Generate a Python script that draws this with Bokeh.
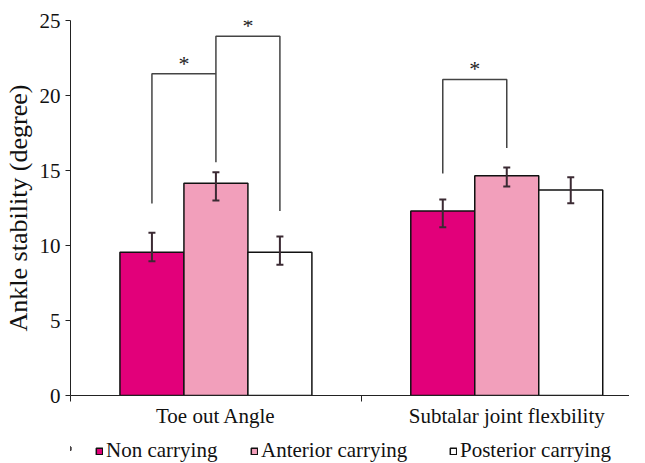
from bokeh.plotting import figure
from bokeh.models import (Range1d, FixedTicker, Whisker, TeeHead, ColumnDataSource,
                          Legend, LegendItem)
from bokeh.layouts import column
from bokeh.core.properties import value
from bokeh.embed import file_html
from bokeh.resources import INLINE

# ---- data ----
categories = ["Toe out Angle", "Subtalar joint flexbility"]
series = ["Non carrying", "Anterior carrying", "Posterior carrying"]
non_carrying = [9.55, 12.3]
anterior_carrying = [14.15, 14.65]
posterior_carrying = [9.55, 13.7]
non_err_low = [8.95, 11.22]
non_err_high = [10.85, 13.07]
ant_err_low = [13.0, 13.93]
ant_err_high = [14.89, 15.2]
post_err_low = [8.71, 12.82]
post_err_high = [10.6, 14.55]
# significance brackets: (category index, from series, to series, top, left leg bottom, right leg bottom)
bracket_cat = [0, 0, 1]
bracket_from = [0, 1, 0]
bracket_to = [1, 2, 1]
bracket_top = [21.45, 23.95, 21.07]
bracket_left_bottom = [12.8, 21.45, 14.8]
bracket_right_bottom = [15.55, 12.3, 16.5]
y_ticks = [0, 5, 10, 15, 20, 25]

colors = ["#E2007A", "#F29FBB", "#FFFFFF"]
values = [non_carrying, anterior_carrying, posterior_carrying]
lows = [non_err_low, ant_err_low, post_err_low]
highs = [non_err_high, ant_err_high, post_err_high]

BAR_W = 0.22
FONT = "Liberation Serif"

p = figure(width=629, height=430, output_backend="svg", toolbar_location=None,
           x_range=Range1d(0, 1.922), y_range=Range1d(0, 25),
           min_border_left=64, min_border_right=0, min_border_top=20, min_border_bottom=35)
p.outline_line_color = None
p.xgrid.visible = False
p.ygrid.visible = False


def xpos(cat, k):
    return cat + 0.5 + (k - 1) * BAR_W


for k, name in enumerate(series):
    xs = [xpos(c, k) for c in range(len(categories))]
    src = ColumnDataSource(dict(x=xs, top=values[k], lo=lows[k], hi=highs[k]))
    p.vbar(x="x", top="top", width=BAR_W, bottom=0, source=src,
           fill_color=colors[k], line_color="#111111", line_width=1.5)
    w = Whisker(base="x", upper="hi", lower="lo", source=src, level="overlay",
                line_color="#3b2a33", line_width=2,
                upper_head=TeeHead(size=7, line_color="#3b2a33", line_width=2),
                lower_head=TeeHead(size=7, line_color="#3b2a33", line_width=2))
    p.add_layout(w)

# brackets
bx, by, sx, sy = [], [], [], []
for i in range(len(bracket_cat)):
    x0 = xpos(bracket_cat[i], bracket_from[i])
    x1 = xpos(bracket_cat[i], bracket_to[i])
    bx.append([x0, x0, x1, x1])
    by.append([bracket_left_bottom[i], bracket_top[i], bracket_top[i], bracket_right_bottom[i]])
    sx.append((x0 + x1) / 2)
    sy.append(bracket_top[i] + 0.7)
p.multi_line(bx, by, line_color="#444444", line_width=1.5)
p.text(sx, sy, text=["*"] * len(sx), text_font=value(FONT), text_font_size="22px",
       text_align="center", text_baseline="middle", text_color="#222222")

# axes
xa = p.xaxis[0]
xa.ticker = FixedTicker(ticks=[0.5, 1.5], minor_ticks=[0, 1, 2])
xa.major_label_overrides = {0.5: categories[0], 1.5: categories[1]}
xa.major_tick_out = 0
xa.major_tick_in = 0
xa.minor_tick_out = 6
xa.minor_tick_in = 0
xa.minor_tick_line_color = "#222222"
xa.axis_line_color = "#222222"
xa.major_label_standoff = 2
xa.major_label_text_font = FONT
xa.major_label_text_font_size = "21px"
xa.major_label_text_color = "#111111"

ya = p.yaxis[0]
ya.ticker = FixedTicker(ticks=y_ticks, minor_ticks=[])
ya.major_tick_out = 5
ya.major_tick_in = 0
ya.major_tick_line_color = "#222222"
ya.axis_line_color = "#222222"
ya.major_label_standoff = 5
ya.major_label_text_font = FONT
ya.major_label_text_font_size = "21px"
ya.major_label_text_color = "#111111"
ya.axis_label = "Ankle stability (degree)"
ya.axis_label_text_font = FONT
ya.axis_label_text_font_size = "26px"
ya.axis_label_text_font_style = "normal"
ya.axis_label_text_color = "#111111"
ya.axis_label_standoff = 4

# legend strip (separate small figure under the chart; its frame is aligned with the chart's frame)
lg_fig = figure(width=629, height=33, output_backend="svg", toolbar_location=None,
                x_range=Range1d(0, 1), y_range=Range1d(0, 1),
                x_axis_location=None, y_axis_location=None,
                min_border_left=0, min_border_right=0, min_border_top=0, min_border_bottom=0)
lg_fig.outline_line_color = None
lg_fig.xgrid.visible = False
lg_fig.ygrid.visible = False
legend_x = [25, 180, 379]
for k, name in enumerate(series):
    # swatch-only renderer, kept far outside the visible range of the legend strip
    r = lg_fig.vbar(x=[-50], top=[0.5], bottom=0.4, width=0.01, fill_color=colors[k],
                    line_color="#111111", line_width=1.5)
    lg = Legend(items=[LegendItem(label=name, renderers=[r])],
                location=(legend_x[k], 0), orientation="horizontal",
                glyph_width=8, glyph_height=8, label_standoff=3,
                padding=0, margin=0, spacing=0,
                border_line_alpha=0, background_fill_alpha=0,
                label_text_font=FONT, label_text_font_size="21px",
                label_text_color="#111111")
    lg_fig.add_layout(lg)

layout = column(p, lg_fig, spacing=0)
open("out.html", "w").write(file_html(layout, INLINE))
